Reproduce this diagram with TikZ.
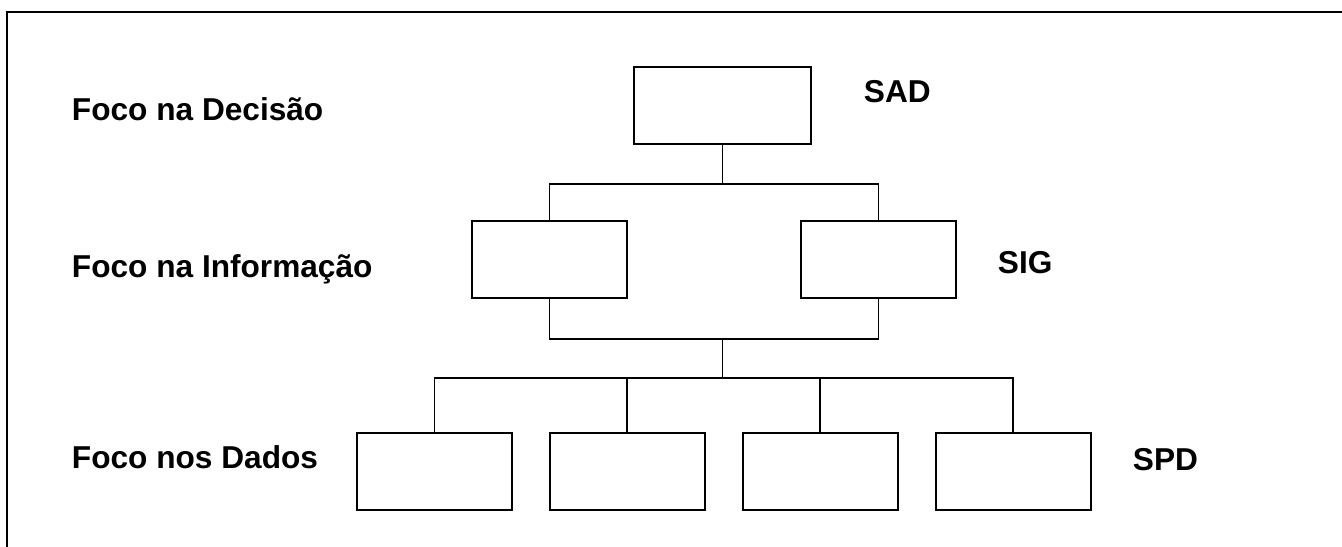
\documentclass[tikz,border=0pt]{standalone}
\usepackage{fontspec}
\setmainfont{Liberation Sans}
\usepackage{tikz}
\usetikzlibrary{positioning}

\begin{document}
\begin{tikzpicture}[
  line width=1.1pt,
  box/.style={draw,minimum width=3.1cm,minimum height=1.54cm,inner sep=0pt},
  lbl/.style={font=\bfseries\fontsize{18}{21}\selectfont,inner sep=0pt,anchor=base west},
  conn/.style={line width=1.1pt}
]
\useasboundingbox (0,0) rectangle (26.84,-10.94);
% frame
\draw (0.14,-10.94) -- (0.14,-0.24) -- (26.84,-0.24);

% boxes
\node[box,minimum width=3.54cm] (sad) at (14.45,-2.11) {};
\node[box] (inf1) at (10.99,-5.19) {};
\node[box] (inf2) at (17.57,-5.19) {};
\node[box] (dad1) at (8.69,-9.43) {};
\node[box,right=0.72cm of dad1] (dad2) {};
\node[box,right=0.72cm of dad2] (dad3) {};
\node[box,right=0.72cm of dad3] (dad4) {};

% labels
\node[lbl] (fdec) at (1.42,-2.4) {Foco na Decisão};
\node[lbl] (finf) at (1.42,-5.54) {Foco na Informação};
\node[lbl] (fdad) at (1.42,-9.36) {Foco nos Dados};
\node[lbl] (tsad) at (17.26,-2.04) {SAD};
\node[lbl] (tsig) at (19.94,-5.46) {SIG};
\node[lbl] (tspd) at (22.64,-9.4) {SPD};

% connectors
\coordinate[below=0.78cm of sad.south] (j1);
\draw[conn] (sad.south) -- (j1);
\draw[conn] (inf1.north) |- (j1) -| (inf2.north);
\coordinate[below=0.8cm of inf1.south] (j2);
\draw[conn] (inf1.south) -- (j2) -| (inf2.south);
\coordinate (j3) at (sad.south |- j2);
\coordinate[below=0.78cm of j3] (j4);
\draw[conn] (j3) -- (j4);
\draw[conn] (dad1.north) |- (j4) -| (dad4.north);
\draw[conn] (dad2.north) -- (dad2.north |- j4);
\draw[conn] (dad3.north) -- (dad3.north |- j4);
\end{tikzpicture}
\end{document}
